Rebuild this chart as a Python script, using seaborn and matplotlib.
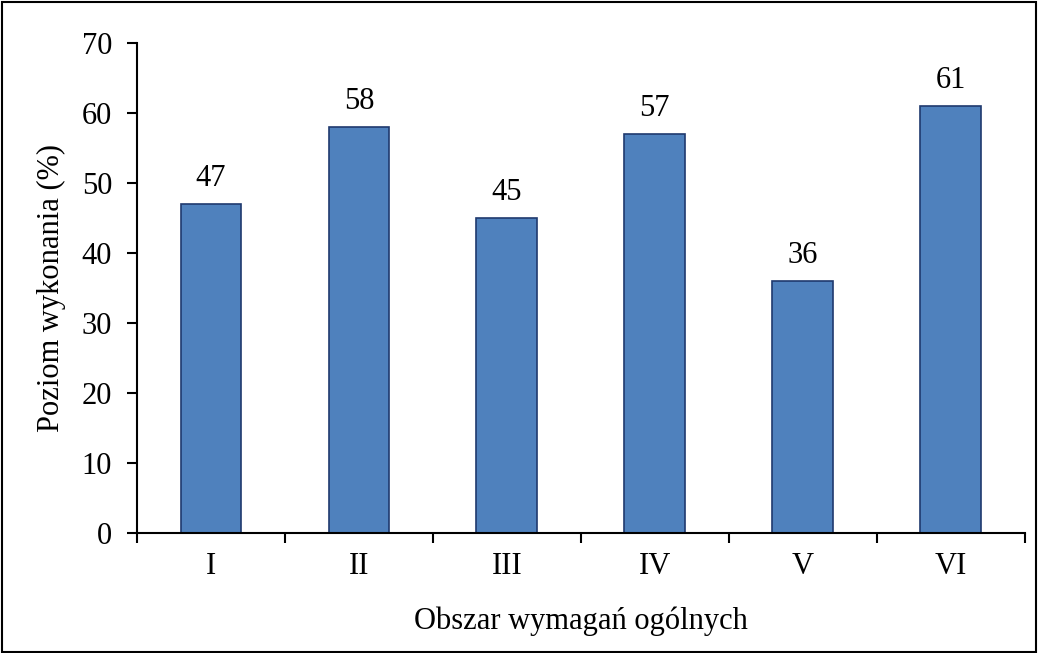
import matplotlib
matplotlib.use('Agg')
import matplotlib.pyplot as plt
import seaborn as sns
import numpy as np

# Dane
obszary = ['I', 'II', 'III', 'IV', 'V', 'VI']
poziom = [47, 58, 45, 57, 36, 61]

sns.set_style('white')
plt.rcParams['font.family'] = ['Liberation Serif', 'DejaVu Serif']
plt.rcParams['font.size'] = 22
plt.rcParams['text.color'] = 'black'
plt.rcParams['axes.labelcolor'] = 'black'
plt.rcParams['xtick.color'] = 'black'
plt.rcParams['ytick.color'] = 'black'

fig = plt.figure(figsize=(10.38, 6.53), dpi=100)
ax = fig.add_axes([0.132, 0.184, 0.855, 0.750])

sns.barplot(x=obszary, y=poziom, color='#4F81BD', saturation=1, width=0.41,
            edgecolor='#1F3A6E', linewidth=1.2, ax=ax)

for i, v in enumerate(poziom):
    ax.text(i, v + 1.6, str(v), ha='center', va='bottom', fontsize=22)

ax.set_xlim(-0.5, len(obszary) - 0.5)
ax.set_ylim(0, 70)
ax.set_yticks(np.arange(0, 71, 10))
ax.set_xticks(np.arange(-0.5, len(obszary), 1), minor=True)
ax.tick_params(axis='x', which='major', bottom=False, length=0, pad=14, labelsize=22)
ax.tick_params(axis='x', which='minor', bottom=True, length=7, width=1.5, direction='out')
ax.tick_params(axis='y', left=True, length=7, width=1.5, direction='out', labelsize=22, pad=11)

for s in ['top', 'right']:
    ax.spines[s].set_visible(False)
for s in ['left', 'bottom']:
    ax.spines[s].set_color('black')
    ax.spines[s].set_linewidth(1.5)

ax.set_xlabel('Obszar wymagań ogólnych', fontsize=22, labelpad=18)
ax.set_ylabel('Poziom wykonania (%)', fontsize=22, labelpad=11)

# ramka wokół całego wykresu
fig.patches.append(plt.Rectangle((0.002, 0.002), 0.996, 0.995, transform=fig.transFigure,
                                 fill=False, edgecolor='black', linewidth=1.5))

fig.savefig('out.png', dpi=100)
